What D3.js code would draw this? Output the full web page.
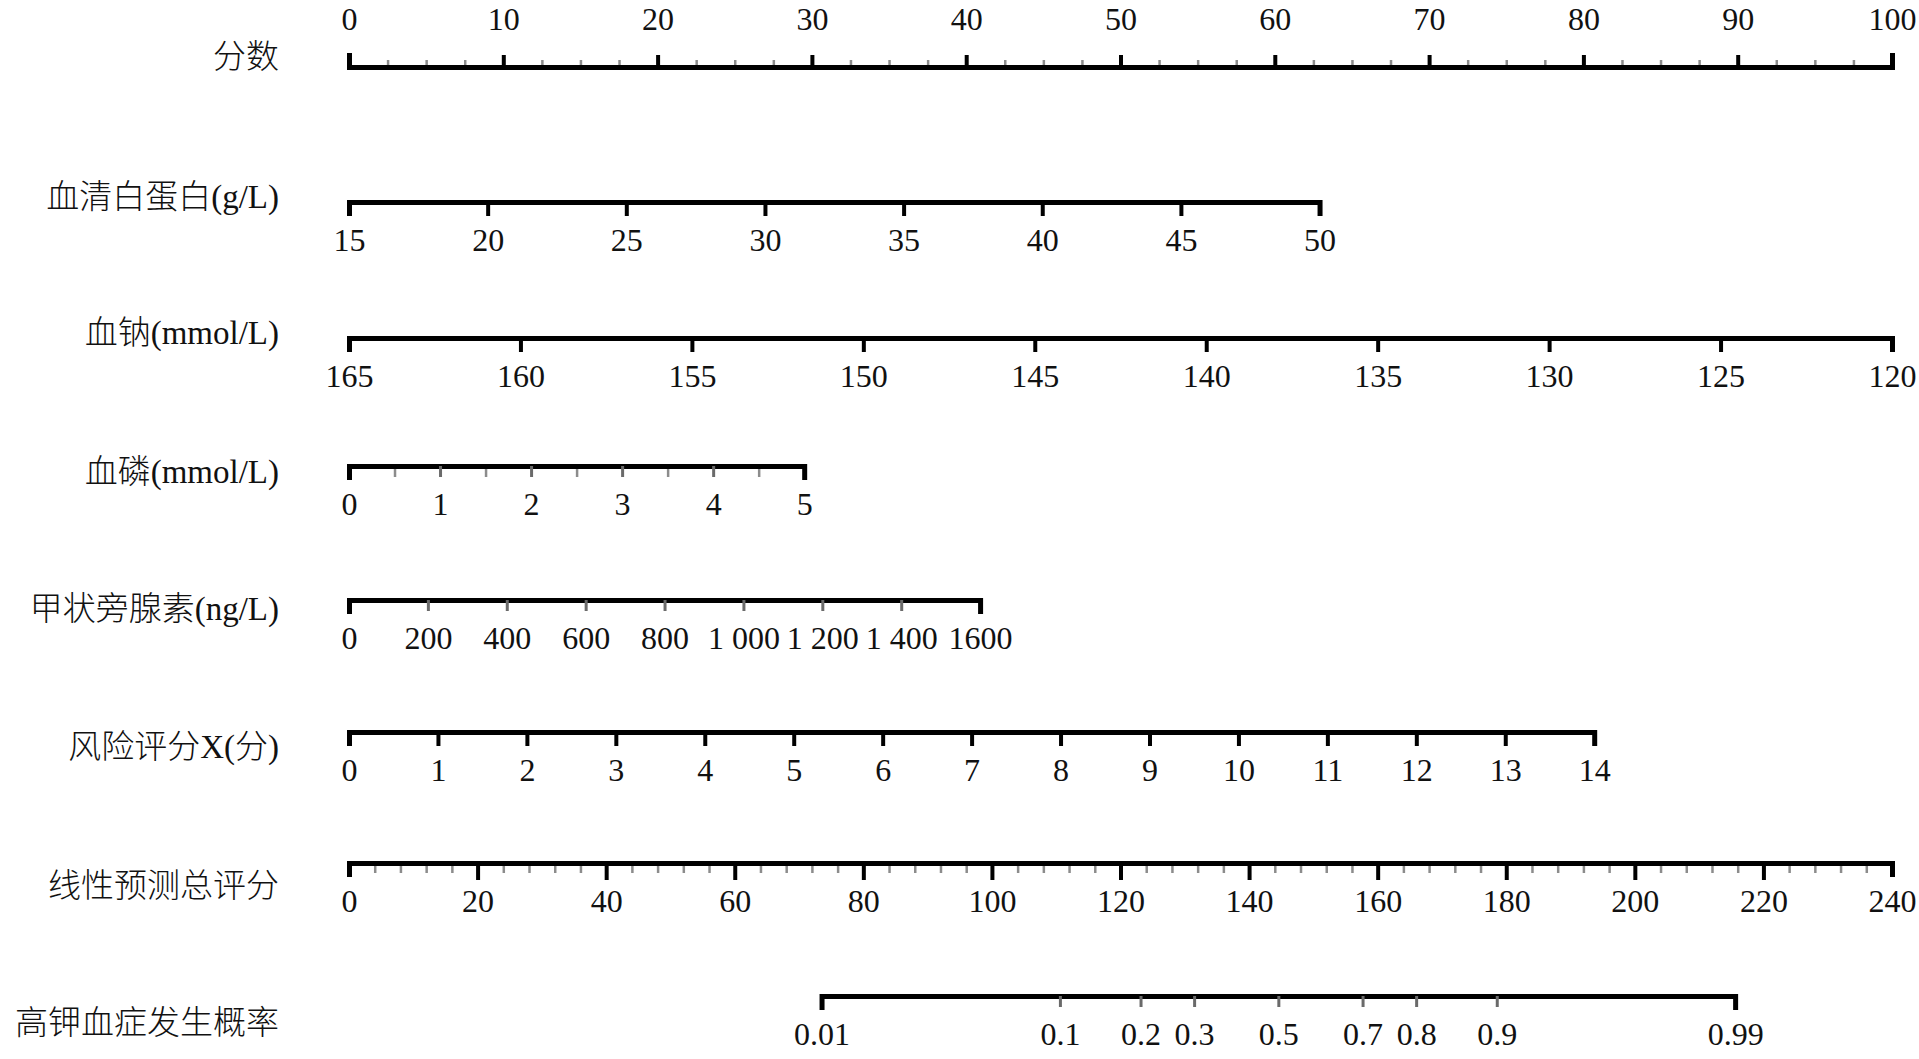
<!DOCTYPE html>
<html>
<head>
<meta charset="utf-8">
<script src="https://cdn.jsdelivr.net/npm/d3@7"></script>
<style>
  body { margin: 0; background: #fff; }
  .num text { font-family: "Liberation Serif", "Times New Roman", serif; font-size: 32px; fill: #111; }
  .lab { font-family: "Liberation Serif", "Noto Sans CJK SC", serif; font-size: 33px; fill: #111; font-weight: 300; }
</style>
</head>
<body>
<div class="chart"></div>
<script>
var svgWidth = 1919;
var svgHeight = 1059;

// row names, top to bottom
var rowNames = ["分数", "血清白蛋白(g/L)", "血钠(mmol/L)", "血磷(mmol/L)",
  "甲状旁腺素(ng/L)", "风险评分X(分)", "线性预测总评分", "高钾血症发生概率"];

// tick values of each scale
var pointsTicks = [0, 10, 20, 30, 40, 50, 60, 70, 80, 90, 100];
var albuminTicks = [15, 20, 25, 30, 35, 40, 45, 50];
var sodiumTicks = [165, 160, 155, 150, 145, 140, 135, 130, 125, 120];
var phosTicks = [0, 1, 2, 3, 4, 5];
var pthTicks = [0, 200, 400, 600, 800, 1000, 1200, 1400, 1600];
var pthLabels = ["0", "200", "400", "600", "800", "1 000", "1 200", "1 400", "1600"];
var riskTicks = [0, 1, 2, 3, 4, 5, 6, 7, 8, 9, 10, 11, 12, 13, 14];
var totalTicks = [0, 20, 40, 60, 80, 100, 120, 140, 160, 180, 200, 220, 240];
var probTicks = [0.01, 0.1, 0.2, 0.3, 0.5, 0.7, 0.8, 0.9, 0.99];

// points reached at each end of the variable scales
var albuminPoints = [0, 62.9];
var sodiumPoints = [0, 100];
var phosPoints = [0, 29.5];
var pthPoints = [0, 40.9];
var riskPoints = [0, 80.7];
// total points where the probability scale starts / ends
var probTotal = [73.5, 215.6];

// layout
var x0 = 349, x1 = 1892, labelX = 279;
var rowY = [67, 202, 338, 466, 600, 732, 863, 996];
var labelY = [57, 197, 333, 472, 609, 747, 886, 1023];

var svg = d3.select(".chart").append("svg")
  .attr("width", svgWidth)
  .attr("height", svgHeight);

var xPoints = d3.scaleLinear().domain([0, 100]).range([x0, x1]);
var xTotal = d3.scaleLinear().domain([0, 240]).range([x0, x1]);

function varScale(ticks, pts) {
  return d3.scaleLinear()
    .domain([ticks[0], ticks[ticks.length - 1]])
    .range(pts.map(xPoints));
}

var logit = (p) => Math.log(p / (1 - p));
var xProb = d3.scaleLinear()
  .domain([logit(0.01), logit(0.99)])
  .range(probTotal.map(xTotal));

function drawAxis(y, scale, major, fmt, minor, o) {
  var g = svg.append("g").attr("transform", `translate(0,${y})`);
  var mk = o.top ? d3.axisTop : d3.axisBottom;
  var ends = scale.domain();
  var notEnd = (d) => d !== ends[0] && d !== ends[1];

  if (minor) {
    g.append("g")
      .call(mk(scale).tickValues(minor.filter(notEnd)).tickSize(o.minorSize).tickFormat(""))
      .call((a) => a.select(".domain").remove())
      .selectAll("line")
      .attr("stroke", "#8c8c8c")
      .attr("stroke-width", 2.5);
  }

  var ax = g.append("g")
    .attr("class", "num")
    .call(mk(scale)
      .tickValues(major)
      .tickFormat(fmt)
      .tickSize(o.size)
      .tickSizeOuter(14)
      .tickPadding((o.top ? 37 : 26) - o.size));

  ax.select(".domain").attr("stroke", "#000").attr("stroke-width", 5);
  ax.selectAll(".tick line")
    .attr("stroke", o.color || "#000")
    .attr("stroke-width", o.width || 4)
    .filter((d) => !notEnd(d))
    .remove();
}

// 分数
drawAxis(rowY[0], xPoints, pointsTicks, (d) => d, d3.range(0, 100.1, 2.5),
  { top: true, size: 12, minorSize: 7 });
// 血清白蛋白
drawAxis(rowY[1], varScale(albuminTicks, albuminPoints), albuminTicks, (d) => d, null,
  { size: 14 });
// 血钠
drawAxis(rowY[2], varScale(sodiumTicks, sodiumPoints), sodiumTicks, (d) => d, null,
  { size: 14 });
// 血磷
drawAxis(rowY[3], varScale(phosTicks, phosPoints), phosTicks, (d) => d, d3.range(0.5, 5, 1),
  { size: 11, minorSize: 11, color: "#6a6a6a", width: 3 });
// 甲状旁腺素
drawAxis(rowY[4], varScale(pthTicks, pthPoints), pthTicks, (d, i) => pthLabels[i], null,
  { size: 11, color: "#6a6a6a", width: 3 });
// 风险评分
drawAxis(rowY[5], varScale(riskTicks, riskPoints), riskTicks, (d) => d, null,
  { size: 14 });
// 线性预测总评分
drawAxis(rowY[6], xTotal, totalTicks, (d) => d, d3.range(0, 240, 4),
  { size: 17, minorSize: 10 });
// 高钾血症发生概率
drawAxis(rowY[7], xProb, probTicks.map(logit), (d, i) => probTicks[i], null,
  { size: 11, color: "#6a6a6a", width: 3 });

// row names
svg.selectAll(".lab")
  .data(rowNames)
  .enter()
  .append("text")
  .attr("class", "lab")
  .attr("x", labelX)
  .attr("y", (d, i) => labelY[i])
  .attr("text-anchor", "end")
  .attr("dominant-baseline", "central")
  .text((d) => d);
</script>
</body>
</html>
